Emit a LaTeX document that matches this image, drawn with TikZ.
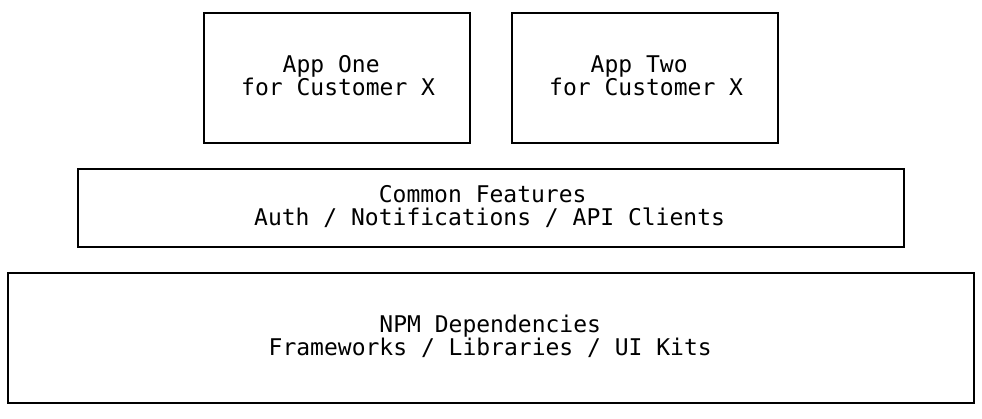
\documentclass[tikz,border=0pt]{standalone}
\usepackage{fontspec}
\setmonofont{DejaVu Sans Mono}
\begin{document}
\begin{tikzpicture}[x=1pt,y=-1pt,
  box/.style={draw=black,line width=1.3pt,rectangle,inner sep=0pt},
  lbl/.style={anchor=base west,inner sep=0pt,align=left,font=\ttfamily\fontsize{23}{23}\selectfont,text=black}]
\useasboundingbox[fill=white] (0,0) rectangle (982,418);
\node[box,minimum width=266pt,minimum height=130pt] (app1) at (337,78) {};
\node[box,minimum width=266pt,minimum height=130pt] (app2) at (645,78) {};
\node[box,minimum width=826pt,minimum height=78pt] (common) at (491,208) {};
\node[box,minimum width=966pt,minimum height=130pt] (npm) at (491,338) {};
\node[lbl] (t1) at (241,95.7) {\hphantom{xxx}App One\\for Customer X};
\node[lbl] (t2) at (549,95.7) {\hphantom{xxx}App Two\\for Customer X};
\node[lbl] (t3) at (254,225.7) {\hphantom{xxxxxxxxx}Common Features\\Auth / Notifications / API Clients};
\node[lbl] (t4) at (268.5,355.7) {\hphantom{xxxxxxxx}NPM Dependencies\\Frameworks / Libraries / UI Kits};
\end{tikzpicture}
\end{document}
